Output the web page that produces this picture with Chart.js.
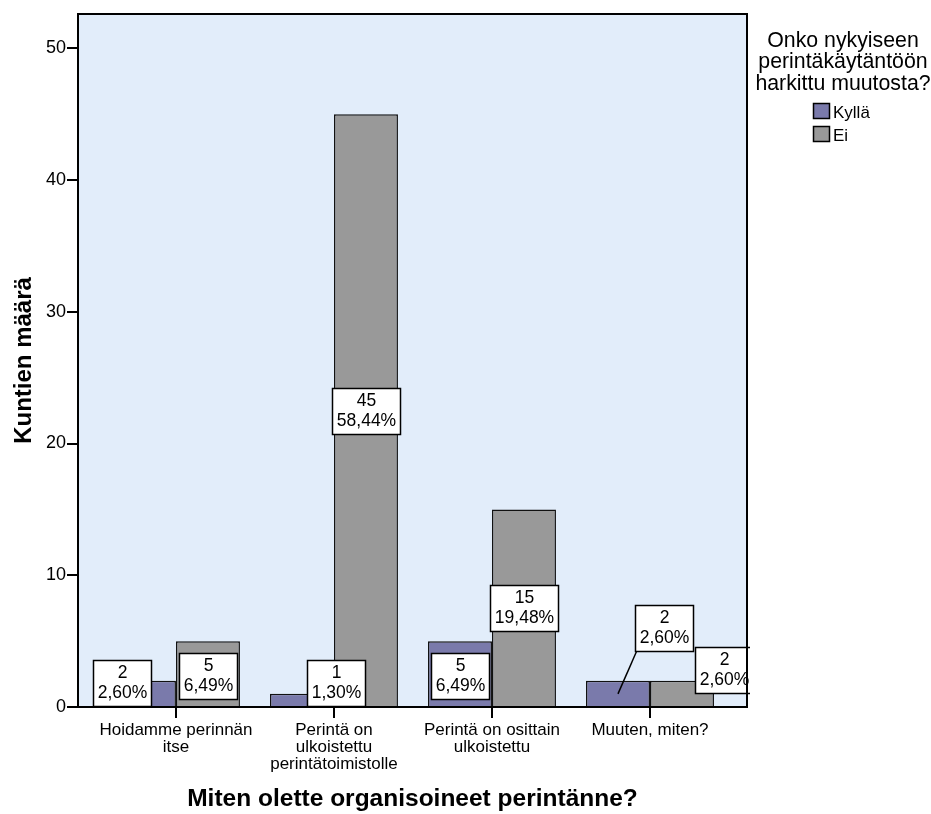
<!DOCTYPE html>
<html>
<head>
<meta charset="utf-8">
<script src="https://cdn.jsdelivr.net/npm/chart.js@4"></script>
<style>
  html, body { margin: 0; padding: 0; background: #fff; }
  canvas { display: block; }
</style>
</head>
<body>
<canvas id="chart" width="931" height="814"></canvas>
<script>
// Categories (multi-line tick labels)
const categories = [
  ['Hoidamme perinnän', 'itse'],
  ['Perintä on', 'ulkoistettu', 'perintätoimistolle'],
  ['Perintä on osittain', 'ulkoistettu'],
  ['Muuten, miten?']
];
const seriesNames = ['Kyllä', 'Ei'];
const kyllaCounts = [2, 1, 5, 2];
const eiCounts = [5, 45, 15, 2];
const yTickValues = [0, 10, 20, 30, 40, 50];

const legendTitle = ['Onko nykyiseen', 'perintäkäytäntöön', 'harkittu muutosta?'];
const xTitle = 'Miten olette organisoineet perintänne?';
const yTitle = 'Kuntien määrä';

// Label box nudges in px [dx, dy, leaderLine] so boxes do not collide
const labelNudge = [
  [[-22, -11], [34, -17], [0, 2], [46, -66, true]],
  [[0, 2], [0, 0], [0, 0], [42, -24]]
];

const FONT = '"Liberation Sans", Arial, sans-serif';
const COLORS = ['#7a7aab', '#999999'];
const PLOT_BG = '#e2edfa';

const total = [...kyllaCounts, ...eiCounts].reduce((a, b) => a + b, 0);

const plotBackground = {
  id: 'plotBackground',
  beforeDraw(chart) {
    const { ctx, chartArea: a } = chart;
    ctx.save();
    ctx.fillStyle = PLOT_BG;
    ctx.fillRect(a.left, a.top, a.right - a.left, a.bottom - a.top);
    ctx.restore();
  }
};

const barLabels = {
  id: 'barLabels',
  afterDatasetsDraw(chart) {
    const { ctx, chartArea: a } = chart;
    const yScale = chart.scales.y;
    ctx.save();
    ctx.beginPath();
    ctx.rect(0, 0, a.right + 3, chart.height);
    ctx.clip();
    ctx.font = '17.5px ' + FONT;
    chart.data.datasets.forEach((ds, di) => {
      chart.getDatasetMeta(di).data.forEach((bar, i) => {
        const v = ds.data[i].y;
        const lines = [String(v), (v / total * 100).toFixed(2).replace('.', ',') + '%'];
        const [dx, dy, leader] = labelNudge[di][i];
        const ax = bar.x, ay = yScale.getPixelForValue(v / 2);
        const cx = ax + dx, cy = ay + dy;
        const w = Math.ceil(Math.max(...lines.map(t => ctx.measureText(t).width))) + 8;
        const h = 46;
        const l = Math.round(cx - w / 2) + 0.5, t = Math.round(cy - h / 2) + 0.5;
        if (leader) {
          ctx.beginPath();
          ctx.moveTo(ax, ay);
          ctx.lineTo(l + 1, t + h);
          ctx.lineWidth = 1.5;
          ctx.strokeStyle = '#000';
          ctx.stroke();
        }
        ctx.fillStyle = '#fff';
        ctx.fillRect(l, t, w, h);
        ctx.lineWidth = 1.5;
        ctx.strokeStyle = '#000';
        ctx.strokeRect(l, t, w, h);
        ctx.fillStyle = '#000';
        ctx.textAlign = 'center';
        ctx.textBaseline = 'middle';
        ctx.fillText(lines[0], l + w / 2, t + h / 2 - 10);
        ctx.fillText(lines[1], l + w / 2, t + h / 2 + 10);
      });
    });
    ctx.restore();
  }
};

const frameAndLegend = {
  id: 'frameAndLegend',
  afterDraw(chart) {
    const { ctx, chartArea: a } = chart;
    ctx.save();
    ctx.strokeStyle = '#000';
    ctx.lineWidth = 2;
    ctx.strokeRect(a.left, a.top, a.right - a.left, a.bottom - a.top);

    // legend title
    ctx.fillStyle = '#000';
    ctx.textAlign = 'center';
    ctx.textBaseline = 'alphabetic';
    ctx.font = '21.3px ' + FONT;
    legendTitle.forEach((s, i) => ctx.fillText(s, 843, 46.5 + i * 21.5));

    // legend items
    ctx.font = '17px ' + FONT;
    ctx.textAlign = 'left';
    chart.data.datasets.forEach((ds, i) => {
      const top = 103.5 + i * 23;
      ctx.fillStyle = ds.backgroundColor;
      ctx.fillRect(813.5, top, 16, 15);
      ctx.lineWidth = 1.5;
      ctx.strokeStyle = '#000';
      ctx.strokeRect(813.5, top, 16, 15);
      ctx.fillStyle = '#000';
      ctx.fillText(ds.label, 833, top + 14);
    });
    ctx.restore();
  }
};

new Chart(document.getElementById('chart'), {
  type: 'bar',
  data: {
    datasets: [
      {
        label: seriesNames[0],
        data: kyllaCounts.map((v, i) => ({ x: i, y: v })),
        backgroundColor: COLORS[0],
        borderColor: '#111',
        borderWidth: 1.5
      },
      {
        label: seriesNames[1],
        data: eiCounts.map((v, i) => ({ x: i, y: v })),
        backgroundColor: COLORS[1],
        borderColor: '#111',
        borderWidth: 1.5
      }
    ]
  },
  options: {
    responsive: false,
    animation: false,
    events: [],
    categoryPercentage: 0.81,
    barPercentage: 1,
    layout: { padding: { top: 14, right: 184, left: 0, bottom: 0 } },
    plugins: {
      legend: { display: false },
      tooltip: { enabled: false }
    },
    scales: {
      x: {
        type: 'linear',
        offset: false,
        min: -0.62,
        max: 3.614,
        afterFit: s => { s.height = 107; },
        afterBuildTicks: s => { s.ticks = categories.map((_, i) => ({ value: i })); },
        ticks: {
          callback: v => categories[v],
          color: '#000',
          font: { family: FONT, size: 17, lineHeight: 1 },
          padding: 4,
          maxRotation: 0,
          autoSkip: false
        },
        grid: { offset: false, drawOnChartArea: false, drawTicks: true, tickLength: 11, color: '#000', lineWidth: 2 },
        border: { display: false },
        title: {
          display: true,
          text: xTitle,
          color: '#000',
          font: { family: FONT, size: 24.5, weight: 'bold' },
          padding: { top: 0, bottom: 0 }
        }
      },
      y: {
        min: 0,
        max: 52.6,
        afterFit: s => { s.width = 78; },
        afterBuildTicks: s => { s.ticks = yTickValues.map(v => ({ value: v })); },
        ticks: {
          color: '#000',
          font: { family: FONT, size: 18 },
          padding: 1
        },
        grid: { drawOnChartArea: false, drawTicks: true, tickLength: 11, color: '#000', lineWidth: 2 },
        border: { display: false },
        title: {
          display: true,
          text: yTitle,
          color: '#000',
          font: { family: FONT, size: 24, weight: 'bold' },
          padding: { top: 10, bottom: 0 }
        }
      }
    }
  },
  plugins: [plotBackground, barLabels, frameAndLegend]
});
</script>
</body>
</html>
